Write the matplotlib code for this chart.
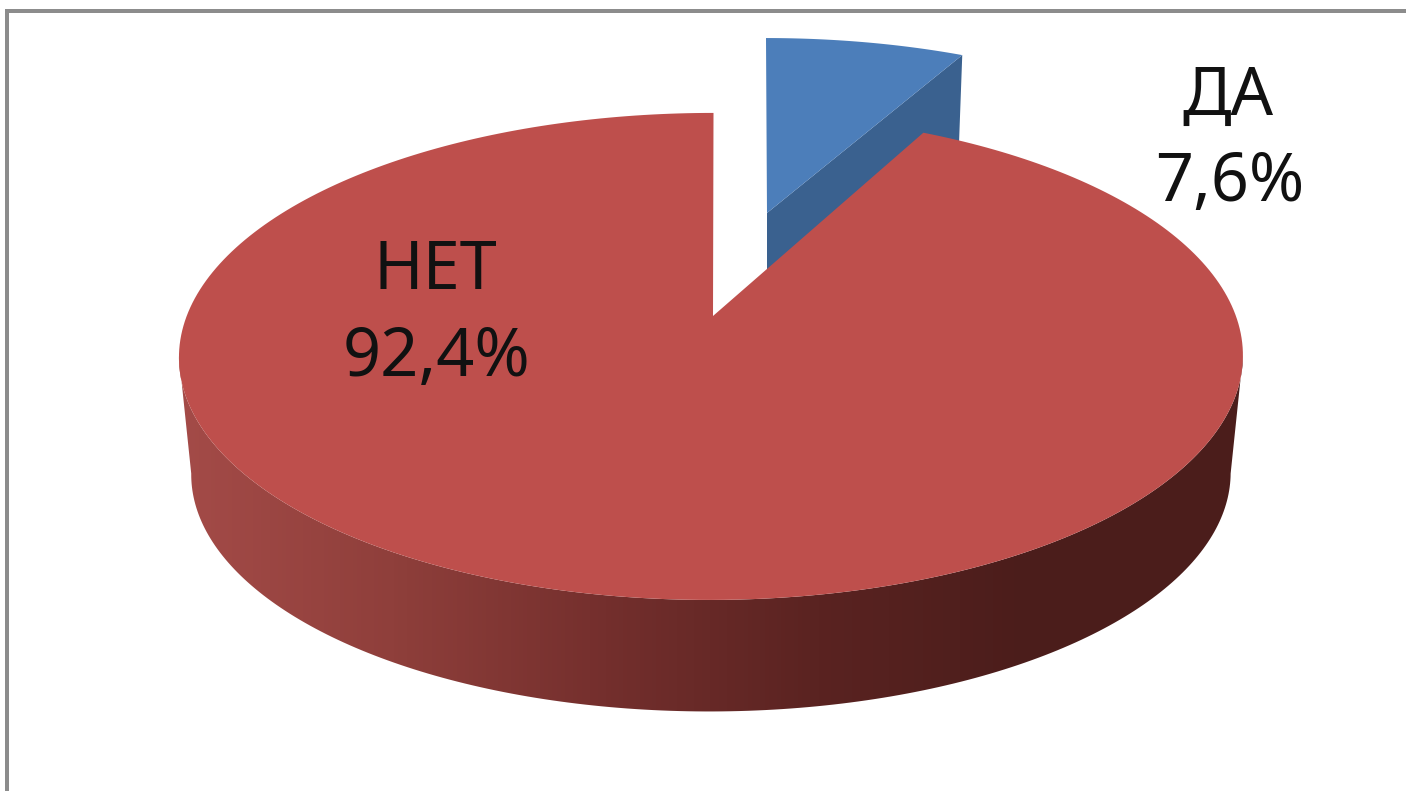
import numpy as np
import matplotlib
matplotlib.use("Agg")
from matplotlib import pyplot as plt
from matplotlib.colors import LinearSegmentedColormap
from matplotlib.patches import Polygon, Rectangle

categories = ["ДА", "НЕТ"]
shares = [7.6, 92.4]
share_labels = ["7,6%", "92,4%"]

W, H = 1406, 791
K = 0.166  # perspective of the disc

plt.rcParams['font.family'] = ['Noto Sans', 'DejaVu Sans']


def disc(deg, x0, y0, rx, ry, skew=0.0):
    # deg is clockwise from the top, points go through a perspective map
    a = np.radians(deg)
    w = 1 + K * np.cos(a)
    x = x0 + rx * np.sin(a) / w - skew * (1 - np.cos(a))
    return np.column_stack([x, y0 - ry * np.cos(a) / w])


fig = plt.figure(figsize=(W / 100, H / 100), dpi=100)
ax = fig.add_axes([0, 0, 1, 1])
ax.set_xlim(0, W)
ax.set_ylim(H, 0)
ax.axis("off")

# frame, only top and left are in the picture
ax.add_patch(Rectangle((5, 9), W - 5, 3.5, color="#8c8c8c", lw=0))
ax.add_patch(Rectangle((5, 9), 3.5, H - 9, color="#8c8c8c", lw=0))

split = shares[0] / sum(shares) * 360

# blue slice, pulled out
blue_deg = np.linspace(0, split, 40)
blue_top = disc(blue_deg, 766, 213, 490, 204)
blue_low = disc(blue_deg, 766, 300, 482, 204)
ax.add_patch(Polygon(np.vstack([[(767, 213)], blue_top[-1:], blue_low[-1:], [(767, 300)]]),
                     fc="#3a618f", ec="none"))
ax.add_patch(Polygon(np.vstack([[(767, 213)], blue_top]), fc="#4c7eba", ec="none"))

# red side, gradient clipped to the rim
ext = np.degrees(np.arctan2(np.sqrt(1 - K ** 2), -K))
rim_deg = np.linspace(ext, 360 - ext, 200)
rim_top = disc(rim_deg, 713.5, 316, 524.6, 236.8, skew=2.2)
rim_low = disc(rim_deg, 713.5, 434, 512.5, 231.4, skew=2.2)
rim = Polygon(np.vstack([rim_top, rim_low[::-1]]), fc="none", ec="none")
ax.add_patch(rim)
cmap = LinearSegmentedColormap.from_list("side", ["#a44b48", "#8f3f3b", "#742f2d", "#5a2321", "#4b1d1b", "#4b1d1b"])
img = ax.imshow(np.linspace(0, 1, 256).reshape(1, -1), cmap=cmap, aspect="auto",
                extent=(178, 1243, 720, 340), zorder=2)
ax.set_xlim(0, W)
ax.set_ylim(H, 0)
img.set_clip_path(rim)

# red top face
red_deg = np.linspace(split, 360, 300)
red_top = disc(red_deg, 713.5, 316, 524.6, 236.8, skew=2.2)
ax.add_patch(Polygon(np.vstack([[(713, 316)], red_top]), fc="#be4f4c", ec="none", zorder=3))

ax.text(1228, 97, categories[0], fontsize=48, color="#111111", ha="center", va="center", zorder=4)
ax.text(1230, 183, share_labels[0], fontsize=48, color="#111111", ha="center", va="center", zorder=4)
ax.text(435, 271, categories[1], fontsize=48, color="#111111", ha="center", va="center", zorder=4)
ax.text(436, 358, share_labels[1], fontsize=48, color="#111111", ha="center", va="center", zorder=4)

plt.savefig("out.png", dpi=100)
